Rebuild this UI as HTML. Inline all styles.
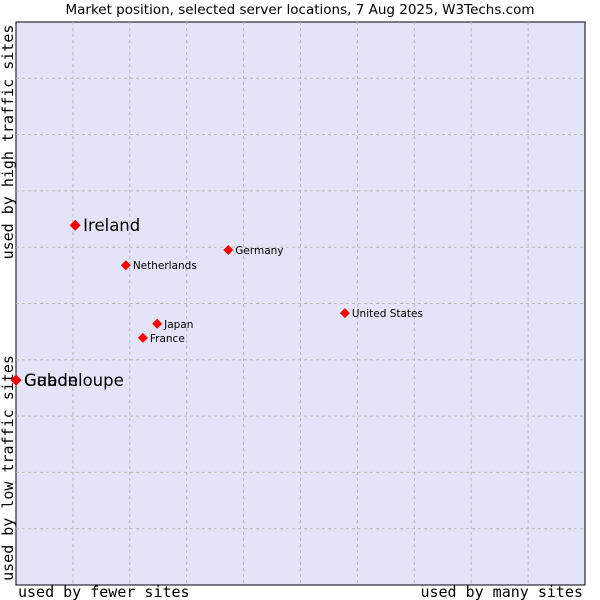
<!DOCTYPE html>
<html><head><meta charset="utf-8"><style>
html,body{margin:0;padding:0;background:#fff;}
svg{display:block;}
</style></head><body>
<svg id="chart" width="600" height="600" xmlns="http://www.w3.org/2000/svg">
<text x="300" y="14" text-anchor="middle" font-family="DejaVu Sans, sans-serif" font-size="13.5" fill="#000">Market position, selected server locations, 7 Aug 2025, W3Techs.com</text>
<rect x="16" y="22" width="569" height="563" fill="#e3e4f8" stroke="#000" stroke-width="1"/>
<g id="grid"></g>
<g id="points"></g>
<text x="18" y="597" font-family="DejaVu Sans Mono, Liberation Mono, monospace" font-size="15" fill="#000">used by fewer sites</text>
<text x="583" y="597" text-anchor="end" font-family="DejaVu Sans Mono, Liberation Mono, monospace" font-size="15" fill="#000">used by many sites</text>
<text transform="translate(13,142) rotate(-90)" text-anchor="middle" font-family="DejaVu Sans Mono, Liberation Mono, monospace" font-size="15" fill="#000">used by high traffic sites</text>
<text transform="translate(13,468) rotate(-90)" text-anchor="middle" font-family="DejaVu Sans Mono, Liberation Mono, monospace" font-size="15" fill="#000">used by low traffic sites</text>
</svg>
<script>
const names = ["Ireland","Netherlands","Germany","United States","Japan","France","Gabon","Guadeloupe"];
const xValues = [10.4,19.3,37.3,57.8,24.8,22.3,0,0];
const yValues = [63.9,56.8,59.5,48.3,46.4,43.9,36.4,36.4];
const big = [true,false,false,false,false,false,true,true];
const gridTicks = [1,2,3,4,5,6,7,8,9];
const NS="http://www.w3.org/2000/svg";
const L=16,R=585,T=22,B=585;
function sx(v){return L+(R-L)*v/100;}
function sy(v){return B-(B-T)*v/100;}
const grid=document.getElementById('grid');
gridTicks.forEach(t=>{
  const v=t*10;
  const lx=document.createElementNS(NS,'line');
  
  
  lx.setAttribute('x1',sx(v));lx.setAttribute('x2',sx(v));lx.setAttribute('y1',T);lx.setAttribute('y2',B);
  lx.setAttribute('stroke','#b8b8b8');lx.setAttribute('stroke-dasharray','3,3');
  grid.appendChild(lx);
  const ly=document.createElementNS(NS,'line');
  
  
  ly.setAttribute('y1',sy(v));ly.setAttribute('y2',sy(v));ly.setAttribute('x1',L);ly.setAttribute('x2',R);
  ly.setAttribute('stroke','#b8b8b8');ly.setAttribute('stroke-dasharray','3,3');
  grid.appendChild(ly);
});
const pts=document.getElementById('points');
names.forEach((n,i)=>{
  const x=sx(xValues[i]),y=sy(yValues[i]);
  const d=document.createElementNS(NS,'polygon');
  
  
  const r=big[i]?5.5:5;
  d.setAttribute('points',`${x},${y-r} ${x+r},${y} ${x},${y+r} ${x-r},${y}`);
  d.setAttribute('fill','#ff0000');
  pts.appendChild(d);
  const t=document.createElementNS(NS,'text');
  
  
  t.setAttribute('x',x+(big[i]?8:7));
  t.setAttribute('y',y+(big[i]?6:4));
  t.setAttribute('font-family','DejaVu Sans, sans-serif');
  t.setAttribute('font-size',big[i]?'16.5':'10.5');
  t.setAttribute('fill','#000');
  t.textContent=n;
  pts.appendChild(t);
});
</script>
</body></html>
